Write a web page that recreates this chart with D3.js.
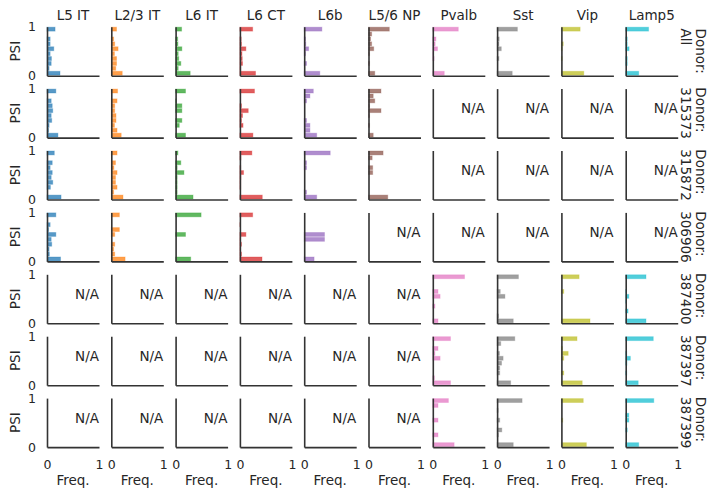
<!DOCTYPE html>
<html>
<head>
<meta charset="utf-8">
<script src="https://cdn.jsdelivr.net/npm/d3@7"></script>
<style>
  html, body { margin: 0; padding: 0; background: #fff; }
  svg { display: block; font-family: "DejaVu Sans", sans-serif; }
</style>
</head>
<body>
<svg id="chart" width="717" height="498"></svg>
<script>
// ---------------- DATA ----------------
const cellTypes = ["L5 IT", "L2/3 IT", "L6 IT", "L6 CT", "L6b", "L5/6 NP", "Pvalb", "Sst", "Vip", "Lamp5"];
const cellColors = ["#1f77b4", "#ff7f0e", "#2ca02c", "#d62728", "#9467bd", "#8c564b", "#e377c2", "#7f7f7f", "#bcbd22", "#17becf"];
const donors = ["All", "315373", "315872", "306906", "387400", "387397", "387399"];
const psiBinEdges = [0, 0.1, 0.2, 0.3, 0.4, 0.5, 0.6, 0.7, 0.8, 0.9, 1.0];
const psiTicks = [0, 1];
const freqTicks = [0, 1];

// frequency per PSI bin (bins from 0-0.1 up to 0.9-1.0); null = N/A
const freqDonorAll = [
  [0.25, 0.04, 0.08, 0.085, 0.06, 0.13, 0.06, 0.06, 0, 0.155],
  [0.21, 0.085, 0.10, 0.10, 0.06, 0.13, 0.065, 0.045, 0, 0.10],
  [0.28, 0.05, 0.10, 0.06, 0.05, 0.12, 0.045, 0.04, 0, 0.115],
  [0.30, 0.015, 0.05, 0.045, 0.04, 0.115, 0.03, 0.025, 0, 0.245],
  [0.30, 0, 0.045, 0, 0.025, 0.085, 0.03, 0.025, 0, 0.34],
  [0.12, 0, 0.02, 0, 0.02, 0.10, 0.06, 0.04, 0.06, 0.40],
  [0.22, 0, 0, 0.025, 0.01, 0.09, 0.045, 0.06, 0, 0.49],
  [0.29, 0, 0, 0.035, 0, 0.08, 0.035, 0.04, 0, 0.39],
  [0.43, 0, 0, 0.015, 0, 0.015, 0.035, 0, 0, 0.36],
  [0.25, 0, 0.03, 0.03, 0, 0.065, 0.03, 0.03, 0, 0.44]
];
const freqDonor315373 = [
  [0.21, 0.03, 0.04, 0.09, 0.08, 0.11, 0.10, 0.08, 0, 0.17],
  [0.19, 0.11, 0.06, 0.09, 0.09, 0.065, 0.065, 0.11, 0, 0.12],
  [0.19, 0, 0.07, 0.12, 0, 0.12, 0.12, 0.015, 0, 0.19],
  [0.25, 0, 0.06, 0.03, 0.05, 0.16, 0.03, 0, 0, 0.28],
  [0.24, 0.11, 0.11, 0.045, 0, 0, 0, 0.045, 0.11, 0.175],
  [0.09, 0, 0.02, 0, 0.02, 0.24, 0.02, 0.12, 0.09, 0.24],
  null, null, null, null
];
const freqDonor315872 = [
  [0.27, 0, 0.065, 0.11, 0.08, 0.10, 0.06, 0.10, 0, 0.14],
  [0.225, 0.045, 0.11, 0.08, 0.08, 0.11, 0.05, 0.08, 0, 0.11],
  [0.335, 0.03, 0.03, 0.03, 0.03, 0.16, 0.03, 0.10, 0, 0.045],
  [0.43, 0, 0.015, 0.015, 0.02, 0.07, 0.015, 0, 0.02, 0.23],
  [0.24, 0.045, 0, 0, 0, 0, 0.045, 0.045, 0, 0.50],
  [0.37, 0, 0, 0, 0, 0.08, 0.08, 0, 0.07, 0.28],
  null, null, null, null
];
const freqDonor306906 = [
  [0.26, 0.045, 0.04, 0.09, 0.08, 0.17, 0.03, 0.06, 0, 0.17],
  [0.265, 0.065, 0.045, 0.065, 0, 0.065, 0.155, 0, 0, 0.155],
  [0.29, 0, 0, 0, 0, 0.19, 0, 0, 0, 0.49],
  [0.425, 0.03, 0.01, 0.03, 0.01, 0.115, 0, 0.01, 0, 0.245],
  [0.19, 0, 0, 0, 0.39, 0.39, 0, 0, 0, 0],
  null, null, null, null, null
];
const freqDonor387400 = [
  null, null, null, null, null, null,
  [0.10, 0, 0, 0.04, 0, 0.14, 0.10, 0, 0, 0.61],
  [0.31, 0.025, 0, 0, 0, 0.15, 0.06, 0, 0, 0.41],
  [0.55, 0, 0, 0, 0, 0, 0.045, 0, 0, 0.34],
  [0.39, 0, 0.045, 0, 0.015, 0.06, 0.015, 0, 0, 0.39]
];
const freqDonor387397 = [
  null, null, null, null, null, null,
  [0.34, 0.03, 0, 0, 0, 0.14, 0.04, 0.10, 0, 0.34],
  [0.26, 0, 0.05, 0.05, 0.085, 0.115, 0.045, 0, 0.07, 0.34],
  [0.40, 0, 0.045, 0, 0, 0.045, 0.13, 0.02, 0, 0.30],
  [0.24, 0, 0.02, 0, 0.025, 0.09, 0.02, 0, 0, 0.53]
];
const freqDonor387399 = [
  null, null, null, null, null, null,
  [0.41, 0, 0.10, 0, 0, 0.10, 0, 0, 0.10, 0.30],
  [0.31, 0, 0.025, 0.09, 0, 0.05, 0, 0.02, 0, 0.48],
  [0.48, 0, 0, 0, 0, 0.025, 0, 0, 0, 0.42],
  [0.25, 0, 0, 0.03, 0, 0.06, 0.06, 0, 0, 0.54]
];
const freqByDonor = [freqDonorAll, freqDonor315373, freqDonor315872, freqDonor306906,
                     freqDonor387400, freqDonor387397, freqDonor387399];

// ---------------- LAYOUT ----------------
const left0 = 47, colStep = 64.3, panelW = 52;
const top0 = 26.7, rowStep = 61.9, panelH = 49;
const textColor = "#262626", axisColor = "#333";

const svg = d3.select("#chart");
svg.append("rect").attr("width", 717).attr("height", 498).attr("fill", "#fff");

const x = d3.scaleLinear().domain([0, 1]).range([0, panelW]);
const y = d3.scaleLinear().domain([0, 1]).range([panelH, 0]);

const nRows = donors.length, nCols = cellTypes.length;

for (let r = 0; r < nRows; r++) {
  for (let c = 0; c < nCols; c++) {
    const g = svg.append("g")
      .attr("transform", `translate(${left0 + c * colStep},${top0 + r * rowStep})`);
    const data = freqByDonor[r][c];

    if (data) {
      const bins = data.map((v, k) => ({v, lo: psiBinEdges[k], hi: psiBinEdges[k + 1]})).filter(d => d.v > 0);
      g.selectAll("rect.bar").data(bins).enter().append("rect")
        .attr("class", "bar")
        .attr("x", x(0))
        .attr("y", d => y(d.hi) + 0.5)
        .attr("width", d => x(d.v) - x(0))
        .attr("height", d => y(d.lo) - y(d.hi) - 1)
        .attr("fill", cellColors[c])
        .attr("fill-opacity", 0.75)
        .attr("stroke", cellColors[c])
        .attr("stroke-opacity", 0.3)
        .attr("stroke-width", 1);
    } else {
      g.append("text")
        .attr("x", x(1))
        .attr("y", y(0.5))
        .attr("text-anchor", "end")
        .attr("font-size", "13.5px")
        .attr("fill", textColor)
        .text("N/A");
    }

    // left axis
    const yAxis = d3.axisLeft(y).tickValues(psiTicks).tickSize(0).tickPadding(11)
      .tickFormat(c === 0 ? d3.format("d") : () => "");
    const ya = g.append("g").call(yAxis);
    ya.select(".domain").attr("stroke", axisColor).attr("stroke-width", 1.6);
    ya.selectAll("text").attr("font-size", "12.5px").attr("fill", textColor)
      .attr("font-family", "DejaVu Sans");

    // bottom axis
    const xAxis = d3.axisBottom(x).tickValues(freqTicks).tickSize(0).tickPadding(13)
      .tickFormat(r === nRows - 1 ? d3.format("d") : () => "");
    const xa = g.append("g").attr("transform", `translate(0,${panelH})`).call(xAxis);
    xa.select(".domain").attr("stroke", axisColor).attr("stroke-width", 1.6);
    xa.selectAll("text").attr("font-size", "12.5px").attr("fill", textColor)
      .attr("font-family", "DejaVu Sans");

    if (c === 0) {
      g.append("text")
        .attr("transform", `translate(${-27.5},${panelH / 2}) rotate(-90)`)
        .attr("text-anchor", "middle")
        .attr("font-size", "13.5px")
        .attr("fill", textColor)
        .text("PSI");
    }
    if (r === 0) {
      g.append("text")
        .attr("x", panelW / 2)
        .attr("y", 19.5 - top0)
        .attr("text-anchor", "middle")
        .attr("font-size", "13.5px")
        .attr("fill", textColor)
        .text(cellTypes[c]);
    }
    if (r === nRows - 1) {
      g.append("text")
        .attr("x", panelW / 2)
        .attr("y", 485 - (top0 + r * rowStep))
        .attr("text-anchor", "middle")
        .attr("font-size", "13.5px")
        .attr("fill", textColor)
        .text("Freq.");
    }
  }

  // row (donor) label on right, rotated clockwise
  const rowCenter = top0 + r * rowStep + panelH / 2;
  const lg = svg.append("g").attr("transform", `translate(696,${rowCenter}) rotate(90)`);
  const lines = ["Donor:", donors[r]];
  const texts = lines.map((t, i) => lg.append("text")
    .attr("y", i * 15.5)
    .attr("font-size", "13.5px")
    .attr("fill", textColor)
    .text(t));
  const maxW = d3.max(texts, t => t.node().getComputedTextLength());
  texts.forEach(t => t.attr("x", -maxW / 2));
}
</script>
</body>
</html>
